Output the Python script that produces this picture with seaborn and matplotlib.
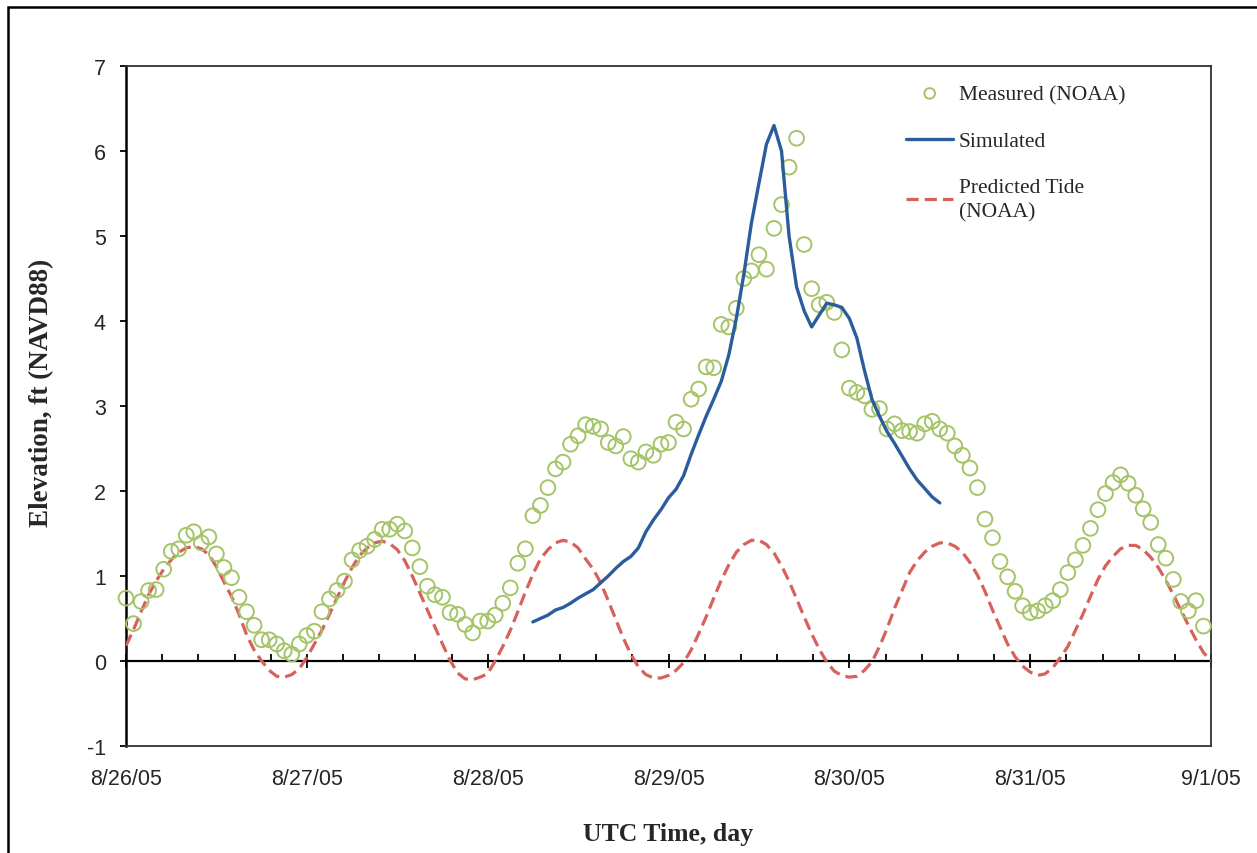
import numpy as np
import pandas as pd
import matplotlib
matplotlib.use("Agg")
import matplotlib.pyplot as plt
from matplotlib.patches import Rectangle
import seaborn as sns

# ---------------- data ----------------
day_labels = ["8/26/05", "8/27/05", "8/28/05", "8/29/05", "8/30/05", "8/31/05", "9/1/05"]

measured_hours = np.arange(0, 144)
measured_values = [
    0.74, 0.44, 0.70, 0.83, 0.84, 1.08, 1.29, 1.32, 1.48, 1.52, 1.39, 1.46,
    1.26, 1.10, 0.98, 0.75, 0.58, 0.42, 0.25, 0.25, 0.20, 0.12, 0.08, 0.20,
    0.30, 0.35, 0.58, 0.73, 0.83, 0.94, 1.19, 1.30, 1.35, 1.43, 1.55, 1.55,
    1.61, 1.53, 1.33, 1.11, 0.88, 0.78, 0.75, 0.57, 0.55, 0.43, 0.33, 0.47,
    0.47, 0.54, 0.68, 0.86, 1.15, 1.32, 1.71, 1.83, 2.04, 2.26, 2.34, 2.55,
    2.65, 2.78, 2.76, 2.73, 2.57, 2.53, 2.64, 2.38, 2.34, 2.46, 2.42, 2.55,
    2.57, 2.81, 2.73, 3.08, 3.20, 3.46, 3.45, 3.96, 3.93, 4.15, 4.50, 4.59,
    4.78, 4.61, 5.09, 5.37, 5.81, 6.15, 4.90, 4.38, 4.19, 4.22, 4.10, 3.66,
    3.21, 3.16, 3.12, 2.96, 2.97, 2.73, 2.79, 2.71, 2.70, 2.68, 2.79, 2.82,
    2.73, 2.68, 2.53, 2.42, 2.27, 2.04, 1.67, 1.45, 1.17, 0.99, 0.82, 0.65,
    0.57, 0.59, 0.65, 0.71, 0.84, 1.04, 1.19, 1.36, 1.56, 1.78, 1.97, 2.10,
    2.19, 2.09, 1.95, 1.79, 1.63, 1.37, 1.21, 0.96, 0.70, 0.59, 0.71, 0.41,
]

sim_hours = np.arange(54, 109)
sim_values = [
    0.46, 0.50, 0.54, 0.60, 0.63, 0.68, 0.74, 0.79, 0.84, 0.92, 1.00, 1.09,
    1.17, 1.23, 1.33, 1.52, 1.66, 1.78, 1.92, 2.02, 2.18, 2.43, 2.66, 2.88,
    3.08, 3.29, 3.60, 4.03, 4.55, 5.15, 5.62, 6.08, 6.30, 6.00, 5.00, 4.40,
    4.12, 3.93, 4.07, 4.21, 4.19, 4.16, 4.03, 3.80, 3.42, 3.08, 2.88, 2.70,
    2.56, 2.41, 2.26, 2.13, 2.03, 1.93, 1.86,
]

tide_hours = np.arange(0, 145)
tide_values = [
    0.18, 0.37, 0.58, 0.78, 0.94, 1.08, 1.19, 1.28, 1.33, 1.35, 1.32, 1.25,
    1.11, 0.93, 0.76, 0.55, 0.31, 0.13, 0.00, -0.11, -0.18, -0.19, -0.16, -0.09,
    0.04, 0.20, 0.36, 0.55, 0.74, 0.93, 1.10, 1.24, 1.33, 1.39, 1.41, 1.38,
    1.31, 1.18, 1.00, 0.80, 0.60, 0.40, 0.20, 0.01, -0.14, -0.21, -0.22, -0.19,
    -0.15, 0.00, 0.17, 0.36, 0.58, 0.81, 1.02, 1.20, 1.31, 1.39, 1.42, 1.40,
    1.33, 1.20, 1.08, 0.92, 0.71, 0.49, 0.27, 0.08, -0.07, -0.16, -0.20, -0.20,
    -0.17, -0.11, -0.02, 0.13, 0.32, 0.52, 0.74, 0.95, 1.13, 1.28, 1.37, 1.42,
    1.42, 1.37, 1.27, 1.12, 0.94, 0.73, 0.52, 0.32, 0.14, -0.01, -0.12, -0.17,
    -0.19, -0.18, -0.11, -0.01, 0.17, 0.38, 0.62, 0.83, 1.04, 1.18, 1.28, 1.35,
    1.39, 1.39, 1.35, 1.28, 1.16, 1.01, 0.82, 0.60, 0.40, 0.20, 0.05, -0.06,
    -0.13, -0.17, -0.15, -0.08, 0.04, 0.17, 0.36, 0.55, 0.76, 0.96, 1.12, 1.23,
    1.32, 1.36, 1.36, 1.31, 1.22, 1.10, 0.95, 0.78, 0.60, 0.42, 0.25, 0.10,
    0.00,
]

measured = pd.DataFrame({"day": measured_hours / 24.0, "elev": measured_values})
simulated = pd.DataFrame({"day": sim_hours / 24.0, "elev": sim_values})
tide = pd.DataFrame({"day": tide_hours / 24.0, "elev": tide_values})

# ---------------- style ----------------
sns.set_style("white")
plt.rcParams["font.family"] = ["Liberation Sans", "DejaVu Sans"]

W, H = 1257, 854
fig = plt.figure(figsize=(W / 100, H / 100), dpi=100)
ax_left, ax_right, ax_top, ax_bot = 126, 1211, 67, 747
ax = fig.add_axes([ax_left / W, 1 - ax_bot / H, (ax_right - ax_left) / W, (ax_bot - ax_top) / H])

ymin, ymax = -1, 7
ax.set_xlim(0, 6)
ax.set_ylim(ymin, ymax)

# series
sns.lineplot(data=tide, x="day", y="elev", ax=ax, color="#D6615D", linewidth=2.3,
             linestyle=(0, (3.8, 1.9)), label="Predicted Tide\n(NOAA)", zorder=3)
sns.scatterplot(data=measured, x="day", y="elev", ax=ax, marker="o", s=112,
                facecolors="none", edgecolor="#A5C468", linewidth=1.4,
                label="Measured (NOAA)", zorder=4, clip_on=False)
sns.lineplot(data=simulated, x="day", y="elev", ax=ax, color="#2B5C9B", linewidth=2.4,
             label="Simulated", zorder=5)

# spines
for side in ["top", "right", "bottom"]:
    ax.spines[side].set_color("#333333")
    ax.spines[side].set_linewidth(1.3)
ax.spines["left"].set_color("black")
ax.spines["left"].set_linewidth(1.8)

# y axis ticks
ax.set_yticks(np.arange(ymin, ymax + 1, 1))
ax.set_yticklabels([str(v) for v in range(ymin, ymax + 1)])
ax.tick_params(axis="y", direction="out", length=4.5, width=1.3, color="black",
               labelsize=15.5, pad=10, left=True)

# x axis tick labels at the bottom (no ticks)
ax.set_xticks(np.arange(0, 7, 1))
ax.set_xticklabels(day_labels)
ax.tick_params(axis="x", length=0, labelsize=15.5, pad=16, bottom=True)

# zero line with day ticks
zero_frac = (0 - ymin) / (ymax - ymin)
sec = ax.secondary_xaxis(zero_frac)
sec.set_xticks(np.arange(0, 7, 1))
sec.set_xticklabels([])
sec.xaxis.set_minor_locator(matplotlib.ticker.MultipleLocator(0.2))
sec.tick_params(axis="x", which="major", direction="inout", length=10, width=1.3, color="black")
sec.tick_params(axis="x", which="minor", direction="in", length=5, width=1.3, color="black")
sec.spines["bottom"].set_linewidth(1.6)
sec.spines["bottom"].set_color("black")

# axis labels
ax.set_xlabel("UTC Time, day", fontfamily="Liberation Serif", fontweight="bold", fontsize=18.5)
ax.set_ylabel("Elevation, ft (NAVD88)", fontfamily="Liberation Serif", fontweight="bold", fontsize=19.5)
ax.xaxis.label.set_va("center")
ax.yaxis.label.set_va("center")
ax.xaxis.set_label_coords(0.5, (ax_bot - 835) / (ax_bot - ax_top))
ax.yaxis.set_label_coords((42 - ax_left) / (ax_right - ax_left), 1 - (393 - ax_top) / (ax_bot - ax_top))

# legend
handles, labels = ax.get_legend_handles_labels()
order = [labels.index("Measured (NOAA)"), labels.index("Simulated"), labels.index("Predicted Tide\n(NOAA)")]
leg = ax.legend([handles[i] for i in order], [labels[i] for i in order],
                loc="upper left",
                bbox_to_anchor=((906 - ax_left) / (ax_right - ax_left), 1 - (85 - ax_top) / (ax_bot - ax_top)),
                frameon=False, borderpad=0, borderaxespad=0, handlelength=2.2, handletextpad=0.25,
                labelspacing=1.25, markerscale=0.72, scatterpoints=1,
                prop={"family": "Liberation Serif", "size": 15.5})
for t in leg.get_texts():
    t.set_linespacing(1.35)

# outer frame
fig.add_artist(Rectangle((8 / W, -0.5), 2.0, (1 - 8 / H) + 0.5, transform=fig.transFigure,
                         fill=False, edgecolor="black", linewidth=1.8))

fig.savefig("out.png", dpi=100)
